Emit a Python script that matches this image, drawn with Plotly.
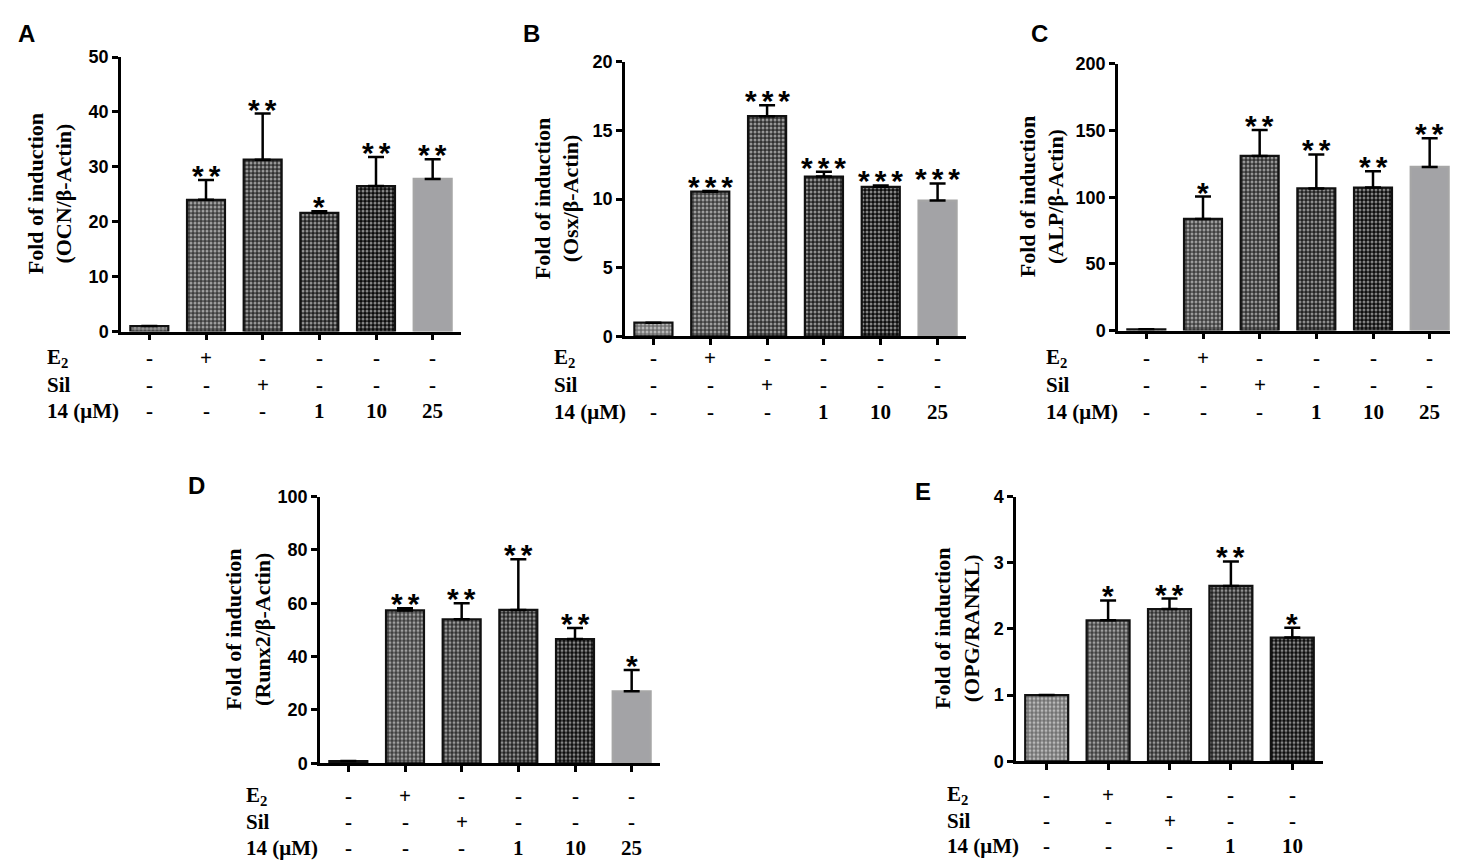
import plotly.graph_objects as go

W, H = 1458, 860

# ---- data ----
# rows of the treatment table
e2_6 = ["-", "+", "-", "-", "-", "-"]
sil_6 = ["-", "-", "+", "-", "-", "-"]
c14_6 = ["-", "-", "-", "1", "10", "25"]
e2_5 = ["-", "+", "-", "-", "-"]
sil_5 = ["-", "-", "+", "-", "-"]
c14_5 = ["-", "-", "-", "1", "10"]

# A: OCN
ocn_mean = [1.0, 24.0, 31.3, 21.6, 26.5, 27.8]
ocn_err = [0, 3.6, 8.4, 0.3, 5.3, 3.6]
ocn_sig = ["", "**", "**", "*", "**", "**"]
# B: Osx
osx_mean = [1.0, 10.55, 16.05, 11.65, 10.9, 9.9]
osx_err = [0, 0.05, 0.8, 0.35, 0.1, 1.25]
osx_sig = ["", "***", "***", "***", "***", "***"]
# C: ALP
alp_mean = [1.0, 83.7, 131.0, 106.6, 107.3, 122.7]
alp_err = [0, 16.8, 19.5, 25.5, 12.2, 21.5]
alp_sig = ["", "*", "**", "**", "**", "**"]
# D: Runx2
runx_mean = [0.8, 57.3, 54.0, 57.5, 46.6, 27.0]
runx_err = [0, 0.8, 6.0, 19.0, 4.1, 8.0]
runx_sig = ["", "**", "**", "**", "**", "*"]
# E: OPG/RANKL
opg_mean = [1.0, 2.13, 2.30, 2.65, 1.87]
opg_err = [0, 0.30, 0.16, 0.37, 0.15]
opg_sig = ["", "*", "**", "**", "*"]

# bar styles: base colour and dot colour of the checkered texture
bg = ["#707070", "#3e3e3e", "#303030", "#222222", "#0c0c0c", "#a3a3a6"]
fg = ["#d6d6d6", "#b6b6b6", "#9c9c9c", "#7a7a7a", "#3c3c3c", "#a3a3a6"]
shapes_ = [".", ".", ".", ".", ".", ""]
edge = ["#111111"] * 5 + ["#a6a6a6"]

SERIF = "Liberation Serif"
SANS = "Liberation Sans"


def px(x):
    return x / W


def py(y):
    return 1 - y / H


fig = go.Figure()
annotations = []

panels = [
    # letter, means, errs, sig, ytitle, ymax, dtick, x0, x1, y0(px of 0), y1(px of top),
    # rows, row ys, label x, title x, letter pos
    ("A", ocn_mean, ocn_err, ocn_sig, "Fold of induction<br>(OCN/β-Actin)", 50, 10,
     113, 453, 321, 40, (e2_6, sil_6, c14_6), (348, 376, 402), 43, 50, (8, 16)),
    ("B", osx_mean, osx_err, osx_sig, "Fold of induction<br>(Osx/β-Actin)", 20, 5,
     617, 958, 326, 45, (e2_6, sil_6, c14_6), (348, 376, 403), 550, 557, (513, 16)),
    ("C", alp_mean, alp_err, alp_sig, "Fold of induction<br>(ALP/β-Actin)", 200, 50,
     1110, 1450, 320, 47, (e2_6, sil_6, c14_6), (348, 376, 403), 1042, 1042, (1021, 16)),
    ("D", runx_mean, runx_err, runx_sig, "Fold of induction<br>(Runx2/β-Actin)", 100, 20,
     312, 652, 763, 490, (e2_6, sil_6, c14_6), (797, 823, 850), 242, 248, (178, 479)),
    ("E", opg_mean, opg_err, opg_sig, "Fold of induction<br>(OPG/RANKL)", 4, 1,
     1008, 1315, 761, 490, (e2_5, sil_5, c14_5), (795, 822, 848), 943, 957, (905, 485)),
]

for k, (letter, mean, err, sig, ytitle, ymax, dtick, x0, x1, y0, y1,
        rows, row_y, lab_x, title_x, lpos) in enumerate(panels):
    n = len(mean)
    idx = list(range(n))
    xa = "x" if k == 0 else f"x{k + 1}"
    ya = "y" if k == 0 else f"y{k + 1}"
    fig.add_trace(go.Bar(
        x=idx, y=mean, xaxis=xa, yaxis=ya,
        width=0.67 if n == 6 else 0.70,
        marker=dict(
            color=bg[:n],
            line=dict(color=edge[:n], width=2.2),
            pattern=dict(shape=shapes_[:n], fgcolor=fg[:n],
                         size=4, solidity=0.45, fillmode="overlay"),
        ),
        error_y=dict(type="data", array=err, arrayminus=[0] * n, symmetric=False,
                     color="black", thickness=2.5, width=8),
        showlegend=False, hoverinfo="y",
    ))

    axsuf = "" if k == 0 else str(k + 1)
    fig.layout["xaxis" + axsuf] = dict(
        domain=[px(x0), px(x1)], anchor=ya, range=[-0.5, n - 0.5],
        tickvals=idx, showticklabels=False, ticks="outside", ticklen=6,
        tickwidth=2.5, tickcolor="black", showline=True, linewidth=2.5,
        linecolor="black", showgrid=False, zeroline=False, fixedrange=True,
    )
    fig.layout["yaxis" + axsuf] = dict(
        domain=[py(y0), py(y1)], anchor=xa, range=[0, ymax], dtick=dtick,
        tick0=0, ticks="outside", ticklen=6, tickwidth=2.5, tickcolor="black",
        showline=True, linewidth=2.5, linecolor="black", showgrid=False,
        zeroline=False, fixedrange=True,
        tickfont=dict(family=SANS, size=18, color="black", weight="bold"),
    )

    # significance stars above error bars
    for i in idx:
        if sig[i]:
            annotations.append(dict(
                x=i, y=mean[i] + err[i], xref=xa, yref=ya,
                text="\u2006".join(sig[i]),
                showarrow=False, yanchor="bottom", yshift=-14,
                font=dict(family=SANS, size=30, color="black", weight="bold"),
            ))

    # y-axis title
    annotations.append(dict(
        x=px(title_x - 8), y=py((y0 + y1) / 2), xref="paper", yref="paper",
        text=ytitle, textangle=-90, showarrow=False,
        xanchor="center", yanchor="middle",
        font=dict(family=SERIF, size=22, color="black", weight="bold"),
    ))

    # treatment table
    row_names = ["E<sub>2</sub>", "Sil", "14 (μM)"]
    for name, vals, yy in zip(row_names, rows, row_y):
        annotations.append(dict(
            x=px(lab_x - 6), y=py(yy), xref="paper", yref="paper", text=name,
            showarrow=False, xanchor="left", yanchor="middle",
            font=dict(family=SERIF, size=21, color="black", weight="bold"),
        ))
        for i, v in enumerate(vals):
            annotations.append(dict(
                x=i, y=py(yy), xref=xa, yref="paper", text=v,
                showarrow=False, xanchor="center", yanchor="middle",
                font=dict(family=SERIF, size=21, color="black", weight="bold"),
            ))

    # panel letter
    annotations.append(dict(
        x=px(lpos[0]), y=py(lpos[1]), xref="paper", yref="paper", text=letter,
        showarrow=False, xanchor="left", yanchor="middle",
        font=dict(family=SANS, size=24, color="black", weight="bold"),
    ))

fig.update_layout(
    width=W, height=H,
    margin=dict(l=0, r=0, t=0, b=0),
    paper_bgcolor="white", plot_bgcolor="white",
    annotations=annotations,
)

fig.write_html("out.html")
